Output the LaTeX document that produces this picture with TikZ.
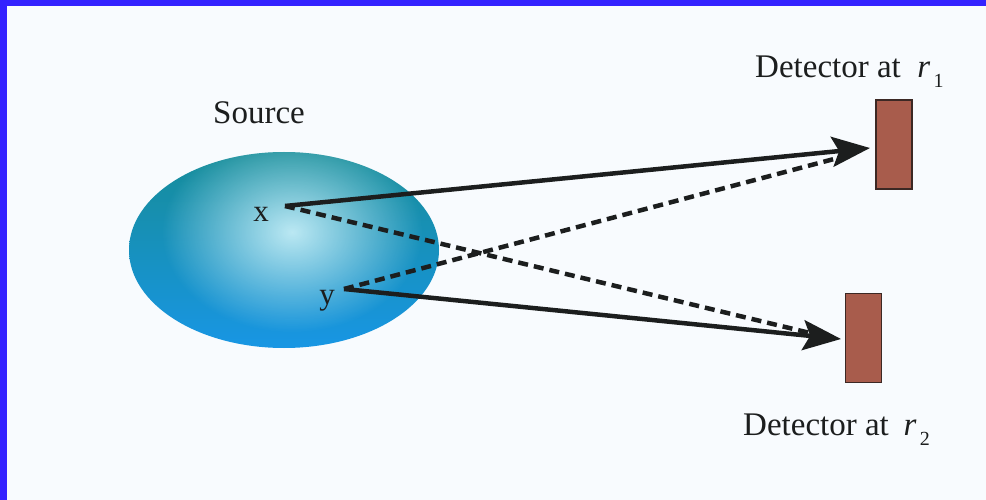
\documentclass[tikz,border=0pt]{standalone}
\usepackage{fontspec}
\setmainfont{Liberation Serif}
\usetikzlibrary{arrows.meta,fadings}
\tikzfading[name=glowfade, inner color=transparent!0, outer color=transparent!100]
\definecolor{frameblue}{RGB}{52,34,255}
\definecolor{bgcol}{RGB}{248,251,254}
\definecolor{inkcol}{RGB}{28,30,30}
\definecolor{srctop}{RGB}{22,140,152}
\definecolor{srcbot}{RGB}{24,150,228}
\definecolor{glowcol}{RGB}{205,242,250}
\definecolor{detfill}{RGB}{168,92,76}
\definecolor{detedge}{RGB}{60,40,36}
\begin{document}
\begin{tikzpicture}[x=1pt,y=-1pt,
  lab/.style={text=inkcol, inner sep=0pt, font=\fontsize{33}{40}\selectfont},
  ptlab/.style={text=inkcol, inner sep=0pt, font=\fontsize{31}{36}\selectfont},
  detbox/.style={draw=detedge, line width=1.2pt, fill=detfill, minimum width=36pt, minimum height=89pt, inner sep=0pt},
  ray/.style={draw=inkcol, line width=4.5pt, -{Stealth[length=38pt,width=30pt,inset=7pt]}},
  dashray/.style={draw=inkcol, line width=4.5pt, dash pattern=on 10pt off 6pt}]
\useasboundingbox (0,0) rectangle (986,500);
\fill[bgcol] (0,0) rectangle (986,500);
\fill[frameblue] (0,0) rectangle (986,6);
\fill[frameblue] (0,0) rectangle (7,500);

% source
\shade[top color=srctop, bottom color=srcbot] (284,250) ellipse [x radius=155, y radius=98];
\begin{scope}
  \clip (284,250) ellipse [x radius=155, y radius=98];
  \fill[glowcol, path fading=glowfade, fill opacity=0.9] (292,232) ellipse [x radius=130, y radius=100];
\end{scope}

\node[lab, anchor=base west] (src) at (213,124) {Source};
\node[ptlab, anchor=base] (xl) at (261,222) {x};
\node[ptlab, anchor=base] (yl) at (327,304) {y};
\coordinate (X) at (285,206);
\coordinate (Y) at (344,289);

% detectors
\node[detbox] (det1) at (894,144.5) {};
\node[detbox] (det2) at (863.5,338) {};
\node[lab, anchor=base west] (d1) at (755,78) {Detector at\hspace{0.5em}\textit{r}\hspace{0.1em}\raisebox{-10pt}{\fontsize{20}{20}\selectfont 1}};
\node[lab, anchor=base west] (d2) at (743,435) {Detector at\hspace{0.45em}\textit{r}\hspace{0.1em}\raisebox{-10pt}{\fontsize{20}{20}\selectfont 2}};

\coordinate (t1) at (870,148);
\coordinate (t2) at (841,339);
\coordinate (e1) at (834,159);
\coordinate (e2) at (810,333);

\draw[dashray] (X) -- (e2);
\draw[dashray] (Y) -- (e1);
\draw[ray] (X) -- (t1);
\draw[ray] (Y) -- (t2);
\end{tikzpicture}
\end{document}
